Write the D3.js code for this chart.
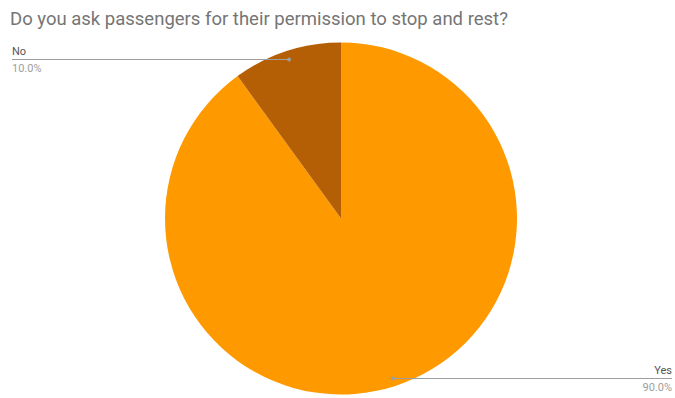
<!DOCTYPE html>
<html>
<head>
<meta charset="utf-8">
<script src="https://cdn.jsdelivr.net/npm/d3@7"></script>
<style>
  body { margin: 0; background: #fff; }
  svg { display: block; font-family: Roboto, "Noto Sans", sans-serif; }
</style>
</head>
<body>
<svg id="chart" width="675" height="398"></svg>
<script>
const title = "Do you ask passengers for their permission to stop and rest?";
const categories = ["Yes", "No"];
const values = [90, 10];
const colors = ["#ff9900", "#b45f06"];

const svg = d3.select("#chart");
const W = 675;
const cx = 341, cy = 218.5, R = 176;

svg.append("text")
  .attr("x", 10).attr("y", 25)
  .attr("font-size", 18.5)
  .attr("fill", "#757575")
  .text(title);

const data = categories.map((c, i) => ({ name: c, value: values[i], color: colors[i] }));
const total = d3.sum(values);

const pie = d3.pie().value(d => d.value).sort(null);
const arcs = pie(data);
const arc = d3.arc().innerRadius(0).outerRadius(R);

const g = svg.append("g").attr("transform", `translate(${cx},${cy})`);
g.selectAll("path.slice")
  .data(arcs)
  .join("path")
  .attr("class", "slice")
  .attr("d", arc)
  .attr("fill", d => d.data.color);

// leader lines: from a point inside each slice out to the chart edge
const inner = d3.arc().innerRadius(R * 0.955).outerRadius(R * 0.955);
const labelLayer = svg.append("g");
arcs.forEach(a => {
  const [px, py] = inner.centroid(a);
  const ax = cx + px, ay = Math.round(cy + py) + 0.5;
  const right = ax > cx;
  const ex = right ? W - 3 : 12;
  labelLayer.append("line")
    .attr("x1", ax).attr("y1", ay).attr("x2", ex).attr("y2", ay)
    .attr("stroke", "#9e9e9e").attr("stroke-width", 1);
  labelLayer.append("circle")
    .attr("cx", ax).attr("cy", ay).attr("r", 2)
    .attr("fill", "#9e9e9e");
  const anchor = right ? "end" : "start";
  labelLayer.append("text")
    .attr("x", ex).attr("y", ay - 5)
    .attr("text-anchor", anchor)
    .attr("font-size", 11)
    .attr("fill", "#555")
    .text(a.data.name);
  labelLayer.append("text")
    .attr("x", ex).attr("y", ay + 12)
    .attr("text-anchor", anchor)
    .attr("font-size", 11)
    .attr("fill", "#9e9e9e")
    .text(d3.format(".1f")(a.data.value / total * 100) + "%");
});
</script>
</body>
</html>
